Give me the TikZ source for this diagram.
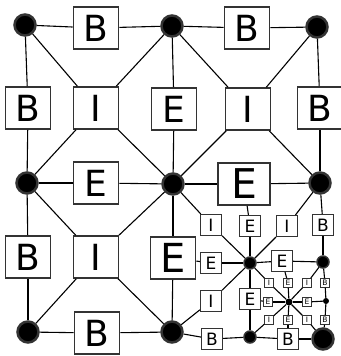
\documentclass[tikz,border=0pt]{standalone}
\usepackage{fontspec}
\setmainfont{DejaVu Sans}
\usepackage{tikz}

\begin{document}
\begin{tikzpicture}[x=1pt, y=-1pt,
 vbig/.style={circle, fill=black, draw=black!80, line width=2.5pt, minimum size=21pt, inner sep=0pt},
 vmid/.style={circle, fill=black, draw=black!80, line width=1.5pt, minimum size=12pt, inner sep=0pt},
 vsmall/.style={circle, fill=black, inner sep=0pt, minimum size=7pt},
 lab/.style={draw=black!80, fill=white, line width=1.6pt, minimum width=45pt, minimum height=42pt, inner sep=0pt, font=\fontsize{36}{38}\selectfont},
 labbig/.style={lab, minimum width=52pt, line width=2pt, font=\fontsize{41}{44}\selectfont},
 labmid/.style={draw=black!80, fill=white, line width=1.1pt, minimum size=21pt, inner sep=0pt, font=\fontsize{17}{19}\selectfont},
 labsmall/.style={draw=black!80, fill=white, line width=0.7pt, minimum size=9pt, inner sep=0pt, font=\fontsize{7.5}{8}\selectfont},
 link/.style={line width=1.1pt}
]
\useasboundingbox (0,0) rectangle (340,356);

% coarse vertices
\node[vbig] (v00) at (25,25) {};
\node[vbig] (v10) at (172,26) {};
\node[vbig] (v20) at (317,27) {};
\node[vbig] (v01) at (27,183) {};
\node[vbig] (v11) at (173,184) {};
\node[vbig] (v21) at (320,183) {};
\node[vbig] (v02) at (28,332) {};
\node[vbig] (v12) at (172,332) {};
\node[vbig] (v22) at (323,339) {};

% first refinement
\node[vmid] (m11) at (250,263) {};
\node[vmid] (m21) at (323,262) {};
\node[vmid] (m12) at (250,337) {};

% second refinement
\node[vsmall] (c22) at (289,302) {};
\node[vsmall, minimum size=6pt] (r22) at (326,301) {};

% coarse labels
\node[lab] (bT1) at (96,28) {B};
\node[lab] (bT2) at (247,28) {B};
\node[lab] (bL1) at (28,108) {B};
\node[lab] (bR1) at (320,108) {B};
\node[lab] (iA) at (96,108) {I};
\node[lab] (eT) at (174,109) {E};
\node[lab] (iB) at (248,109) {I};
\node[lab] (eL) at (96,183) {E};
\node[labbig] (eR) at (244,184) {E};
\node[lab] (bL2) at (28,257) {B};
\node[lab] (iC) at (96,257) {I};
\node[lab, font=\fontsize{40}{42}\selectfont] (eB) at (173,258) {E};
\node[lab] (bB1) at (97,333) {B};

% first refinement labels
\node[labmid] (i1a) at (211,225) {I};
\node[labmid] (e1a) at (250,226) {E};
\node[labmid] (i1b) at (287,226) {I};
\node[labmid] (b1a) at (323,225) {B};
\node[labmid] (e1b) at (211,263) {E};
\node[labmid] (e1c) at (282,261) {E};
\node[labmid] (i1c) at (211,301) {I};
\node[labmid] (e1d) at (250,299) {E};
\node[labmid] (b1b) at (212,339) {B};
\node[labmid] (b1c) at (288,339) {B};

% second refinement labels
\node[labsmall] (i2a) at (269,283) {I};
\node[labsmall] (e2a) at (288,283) {E};
\node[labsmall] (i2b) at (307,283) {I};
\node[labsmall] (b2a) at (325,283) {B};
\node[labsmall] (e2b) at (268,302) {E};
\node[labsmall] (e2c) at (307,302) {E};
\node[labsmall] (i2c) at (269,320) {I};
\node[labsmall] (e2d) at (288,320) {E};
\node[labsmall] (i2d) at (307,320) {I};
\node[labsmall] (b2b) at (325,320) {B};

% coarse connectors
\draw[link] (v00) -- (bT1);
\draw[link] (bT1) -- (v10);
\draw[link] (v10) -- (bT2);
\draw[link] (bT2) -- (v20);
\draw[link] (v00) -- (bL1);
\draw[link] (bL1) -- (v01);
\draw[link] (v20) -- (bR1);
\draw[link] (bR1) -- (v21);
\draw[link] (v10) -- (eT);
\draw[link] (eT) -- (v11);
\draw[link] (v01) -- (eL);
\draw[link] (eL) -- (v11);
\draw[link] (v11) -- (eR);
\draw[link] (eR) -- (v21);
\draw[link] (v01) -- (bL2);
\draw[link] (bL2) -- (v02);
\draw[link] (v11) -- (eB);
\draw[link] (eB) -- (v12);
\draw[link] (v02) -- (bB1);
\draw[link] (bB1) -- (v12);
\draw[link] (iA) -- (v00);
\draw[link] (iA) -- (v10);
\draw[link] (iA) -- (v01);
\draw[link] (iA) -- (v11);
\draw[link] (iB) -- (v10);
\draw[link] (iB) -- (v20);
\draw[link] (iB) -- (v11);
\draw[link] (iB) -- (v21);
\draw[link] (iC) -- (v01);
\draw[link] (iC) -- (v11);
\draw[link] (iC) -- (v02);
\draw[link] (iC) -- (v12);

% first refinement connectors
\draw[link] (v11) -- (i1a);
\draw[link] (i1a) -- (m11);
\draw[link] (eR) -- (e1a);
\draw[link] (e1a) -- (m11);
\draw[link] (v21) -- (i1b);
\draw[link] (i1b) -- (m11);
\draw[link] (v21) -- (b1a);
\draw[link] (b1a) -- (m21);
\draw[link] (eB) -- (e1b);
\draw[link] (e1b) -- (m11);
\draw[link] (m11) -- (e1c);
\draw[link] (e1c) -- (m21);
\draw[link] (m11) -- (i1c);
\draw[link] (i1c) -- (v12);
\draw[link] (m11) -- (e1d);
\draw[link] (e1d) -- (m12);
\draw[link] (v12) -- (b1b);
\draw[link] (b1b) -- (m12);
\draw[link] (m12) -- (b1c);
\draw[link] (b1c) -- (v22);

% second refinement connectors
\draw[link] (m11) -- (i2a);
\draw[link] (i2a) -- (c22);
\draw[link] (e1c) -- (e2a);
\draw[link] (e2a) -- (c22);
\draw[link] (m21) -- (i2b);
\draw[link] (i2b) -- (c22);
\draw[link] (m21) -- (b2a);
\draw[link] (b2a) -- (r22);
\draw[link] (e1d) -- (e2b);
\draw[link] (e2b) -- (c22);
\draw[link] (c22) -- (e2c);
\draw[link] (e2c) -- (r22);
\draw[link] (m12) -- (i2c);
\draw[link] (i2c) -- (c22);
\draw[link] (c22) -- (e2d);
\draw[link] (e2d) -- (b1c);
\draw[link] (v22) -- (i2d);
\draw[link] (i2d) -- (c22);
\draw[link] (r22) -- (b2b);
\draw[link] (b2b) -- (v22);
\end{tikzpicture}
\end{document}
